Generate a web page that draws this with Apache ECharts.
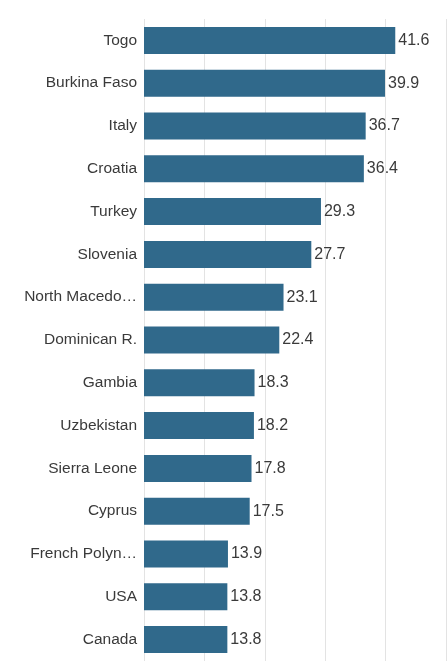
<!DOCTYPE html>
<html><head><meta charset="utf-8">
<script src="https://cdn.jsdelivr.net/npm/echarts@6/dist/echarts.min.js"></script>
<style>html,body{margin:0;padding:0;background:#fff}#c{width:448px;height:668px}</style>
</head><body><div id="c"></div>
<script>
const categories = ["Togo","Burkina Faso","Italy","Croatia","Turkey","Slovenia","North Macedonia","Dominican R.","Gambia","Uzbekistan","Sierra Leone","Cyprus","French Polynesia","USA","Canada"];
const values = [41.6,39.9,36.7,36.4,29.3,27.7,23.1,22.4,18.3,18.2,17.8,17.5,13.9,13.8,13.8];
const chart = echarts.init(document.getElementById('c'));
chart.setOption({
  animation:false,
  backgroundColor:'#fff',
  grid:{left:144,right:2,top:19,bottom:7,containLabel:false},
  xAxis:{type:'value',min:0,max:50,interval:10,
    axisLabel:{show:false},axisLine:{show:false},axisTick:{show:false},
    splitLine:{show:true,lineStyle:{color:'#e3e3e3',width:1}}},
  yAxis:{type:'category',data:categories,inverse:true,
    axisLine:{show:false},axisTick:{show:false},
    axisLabel:{margin:7,fontFamily:'Liberation Sans, Arial, sans-serif',fontSize:15.5,color:'#3a3a3a',
      width:116,overflow:'truncate',ellipsis:'…'}},
  series:[{type:'bar',data:values,barWidth:27,
    itemStyle:{color:'#30698b'},
    label:{show:true,position:'right',distance:3,fontFamily:'Liberation Sans, Arial, sans-serif',fontSize:16,color:'#3a3a3a'}}]
});
</script></body></html>
